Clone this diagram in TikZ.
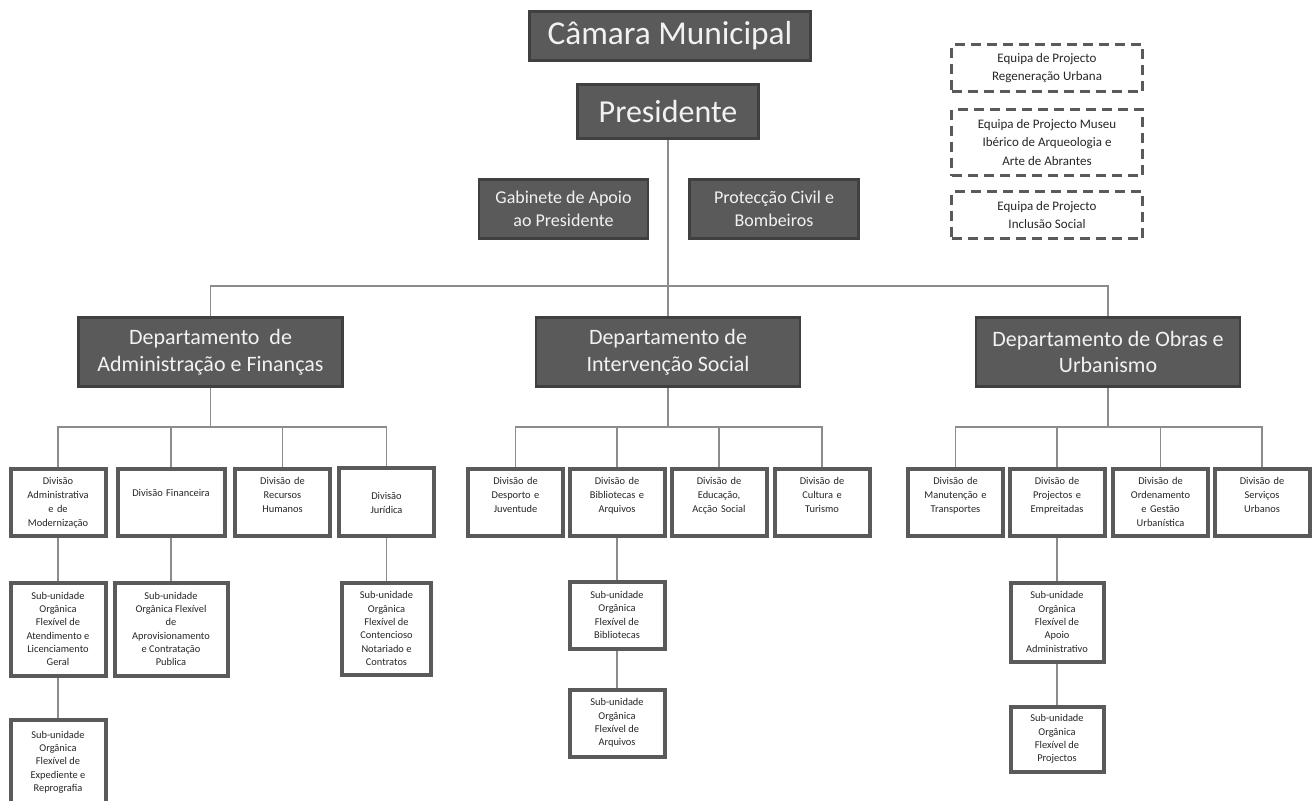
\documentclass[tikz,border=0pt]{standalone}
\usepackage{fontspec}
\setmainfont{Carlito}
\usepackage{tikz}
\usetikzlibrary{positioning}
\usetikzlibrary{calc}
\definecolor{boxgrey}{HTML}{5A5A5A}
\definecolor{edgegrey}{HTML}{404040}
\definecolor{linegrey}{HTML}{8C8C8C}
\definecolor{textwhite}{HTML}{F2F2F2}
\tikzset{darkbox/.style={draw=edgegrey,fill=boxgrey,line width=2pt,text=textwhite,align=center,inner sep=0pt},
  divbox/.style={draw=boxgrey,fill=white,line width=3pt,align=center,inner sep=0pt,minimum width=71.25pt,minimum height=50.25pt,text=black!85,font=\fontsize{7.8}{10.5}\selectfont,text width=68pt,text height=11.6pt,text depth=38.6pt},
  subbox/.style={draw=boxgrey,fill=white,line width=3pt,align=center,inner sep=0pt,minimum width=71.25pt,text=black!85,font=\fontsize{7.8}{10}\selectfont},
  teambox/.style={draw=boxgrey,dash pattern=on 7.5pt off 4.5pt,line width=2.25pt,align=center,inner sep=0pt,minimum width=143.25pt,text=black!85,font=\fontsize{9.75}{14}\selectfont},
  conn/.style={draw=linegrey,line width=1.1pt}}

\begin{document}
\begin{tikzpicture}[x=0.75pt,y=-0.75pt]
\useasboundingbox (0,0) rectangle (1313,800);

\node (cm) at (670,36) [darkbox, minimum width=211pt, minimum height=37pt, font=\fontsize{25}{29}\selectfont] {Câmara Municipal};
\node (pres) at (668,111.5) [darkbox, minimum width=135.75pt, minimum height=40.5pt, font=\fontsize{24}{28}\selectfont] {Presidente};
\node (gab) at (563.5,209) [darkbox, minimum width=126.75pt, minimum height=44.25pt, font=\fontsize{13.5}{17}\selectfont] {Gabinete de Apoio\\ao Presidente};
\node (prot) at (774,209) [darkbox, minimum width=126.75pt, minimum height=44.25pt, font=\fontsize{13.5}{17}\selectfont] {Protecção Civil e\\Bombeiros};

\node (eRU) at (1047,68) [teambox, minimum height=35.25pt] {Equipa de Projecto\\Regeneração Urbana};
\node (eMI) at (1047,142.5) [teambox, minimum height=49.5pt] {Equipa de Projecto Museu\\Ibérico de Arqueologia e\\Arte de Abrantes};
\node (eIS) at (1047,215) [teambox, minimum height=35.25pt] {Equipa de Projecto\\Inclusão Social};

\node (dAF) at (210.5,352) [darkbox, minimum width=198pt, minimum height=51.75pt, font=\fontsize{16.5}{20}\selectfont] {Departamento\ \ de\\Administração e Finanças};
\node (dIS) at (668,352) [darkbox, minimum width=198pt, minimum height=51.75pt, font=\fontsize{16.5}{20}\selectfont] {Departamento de\\Intervenção Social};
\node (dOU) at (1108,352) [darkbox, minimum width=198pt, minimum height=51.75pt, font=\fontsize{16.5}{20}\selectfont] {Departamento de Obras e\\Urbanismo};

\node (d1) at (58,502) [divbox] {Divisão\\Administrativa\\e de\\Modernização};
\node (d2) at (171,502) [divbox, minimum width=80.25pt, text height=20.6pt, text depth=29.6pt] {Divisão Financeira};
\node (d3) at (282.5,502) [divbox] {Divisão de\\Recursos\\Humanos};
\node (d4) at (386.5,502) [divbox, text height=22.9pt, text depth=27.4pt] {Divisão\\Jurídica};
\node (i1) at (515.5,502) [divbox] {Divisão de\\Desporto e\\Juventude};
\node (i2) at (617,502) [divbox] {Divisão de\\Bibliotecas e\\Arquivos};
\node (i3) at (719,502) [divbox] {Divisão de\\Educação,\\Acção Social};
\node (i4) at (822,502) [divbox] {Divisão de\\Cultura e\\Turismo};
\node (o1) at (955.5,502) [divbox] {Divisão de\\Manutenção e\\Transportes};
\node (o2) at (1057,502) [divbox] {Divisão de\\Projectos e\\Empreitadas};
\node (o3) at (1160.5,502) [divbox] {Divisão de\\Ordenamento\\e Gestão\\Urbanística};
\node (o4) at (1262,502) [divbox] {Divisão de\\Serviços\\Urbanos};

\node (sA) [subbox, below of=d1, node distance=95.25pt, minimum height=69.75pt] {Sub-unidade\\Orgânica\\Flexível de\\Atendimento e\\Licenciamento\\Geral};
\node (sC) [subbox, below of=sA, node distance=99.75pt, minimum height=63.75pt] {Sub-unidade\\Orgânica\\Flexível de\\Expediente e\\Reprografia};
\node (sB) [subbox, below of=d2, node distance=95.25pt, minimum width=84.75pt, minimum height=69.75pt] {Sub-unidade\\Orgânica Flexível\\de\\Aprovisionamento\\e Contratação\\Publica};
\node (sD) [subbox, below of=d4, node distance=94.9pt, minimum width=66.75pt, minimum height=69pt] {Sub-unidade\\Orgânica\\Flexível de\\Contencioso\\Notariado e\\Contratos};
\node (sE) [subbox, below of=i2, node distance=84.75pt, minimum height=50.25pt] {Sub-unidade\\Orgânica\\Flexível de\\Bibliotecas};
\node (sF) [subbox, below of=sE, node distance=81pt, minimum height=50.25pt] {Sub-unidade\\Orgânica\\Flexível de\\Arquivos};
\node (sG) [subbox, below of=o2, node distance=90pt, minimum width=69.75pt, minimum height=59.25pt] {Sub-unidade\\Orgânica\\Flexível de\\Apoio\\Administrativo};
\node (sH) [subbox, below of=sG, node distance=87.75pt, minimum width=69.75pt, minimum height=48.75pt] {Sub-unidade\\Orgânica\\Flexível de\\Projectos};

\coordinate (bus) at (668,286);
\coordinate (busAF) at (210.5,427);
\coordinate (busIS) at (668,427);
\coordinate (busOU) at (1108,427);

\draw[conn] (pres) -- (dIS);
\draw[conn] (dAF.north) |- (bus) -| (dOU.north);
\draw[conn] (dAF) -- (busAF);
\draw[conn] (dIS) -- (busIS);
\draw[conn] (dOU) -- (busOU);
\foreach \n in {d1,d2,d3,d4} \draw[conn] (\n.north) |- (busAF);
\foreach \n in {i1,i2,i3,i4} \draw[conn] (\n.north) |- (busIS);
\foreach \n in {o1,o2,o3,o4} \draw[conn] (\n.north) |- (busOU);
\draw[conn] (d1) -- (sA) -- (sC);
\draw[conn] (d2) -- (sB);
\draw[conn] (d4) -- (sD);
\draw[conn] (i2) -- (sE) -- (sF);
\draw[conn] (o2) -- (sG) -- (sH);
\end{tikzpicture}
\end{document}
